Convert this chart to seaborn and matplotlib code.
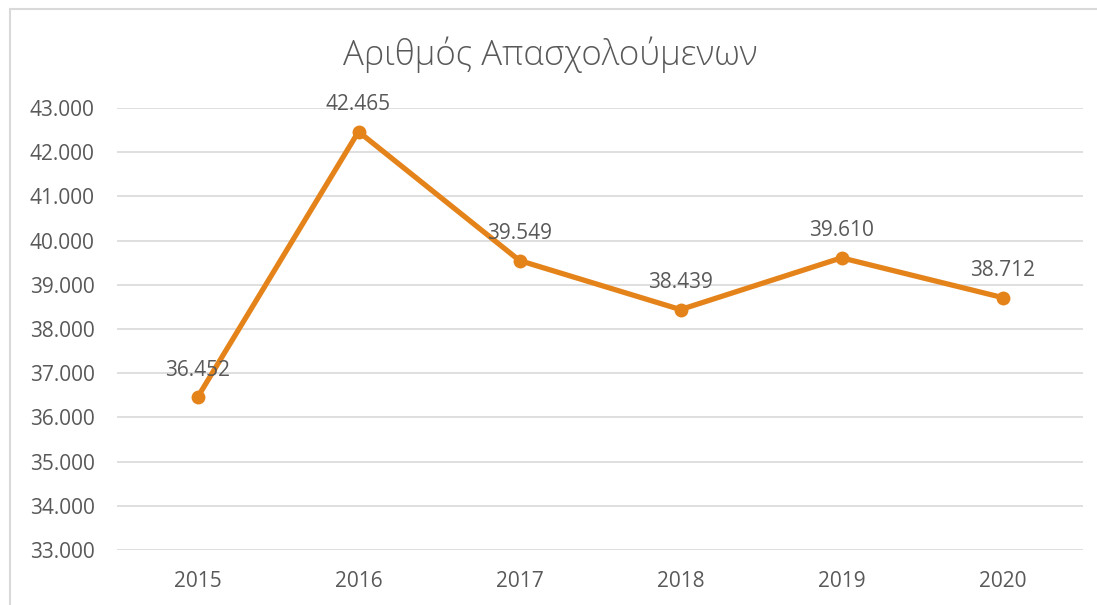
import matplotlib
matplotlib.use("Agg")
import matplotlib.pyplot as plt
import seaborn as sns
import pandas as pd
from matplotlib.ticker import FuncFormatter, MultipleLocator
from matplotlib.patches import Rectangle

# chart data
years = ['2015', '2016', '2017', '2018', '2019', '2020']
employees = [36452, 42465, 39549, 38439, 39610, 38712]
title = 'Αριθμός Απασχολούμενων'

df = pd.DataFrame({'Year': years, 'Employees': employees})

orange = '#E5831B'
text_gray = '#595959'
grid_gray = '#D9D9D9'

sns.set_style('white')
plt.rcParams['font.family'] = ['Open Sans', 'DejaVu Sans']


def dotted(v):
    return f'{v:,.0f}'.replace(',', '.')


fig = plt.figure(figsize=(10.97, 6.05), dpi=100)
ax = fig.add_axes([117 / 1097, 55 / 605, 966 / 1097, 442 / 605])

sns.lineplot(data=df, x='Year', y='Employees', sort=False, color=orange,
             linewidth=3.8, marker='o', markersize=10, markeredgewidth=0, ax=ax)

# data labels above each point
for i, v in enumerate(employees):
    ax.annotate(dotted(v), (i, v), xytext=(0, 12), textcoords='offset points',
                ha='center', va='bottom', fontsize=15, color=text_gray)

ax.set_xlim(-0.5, len(years) - 0.5)
ax.set_ylim(33000, 43000)
ax.yaxis.set_major_locator(MultipleLocator(1000))
ax.yaxis.set_major_formatter(FuncFormatter(lambda v, p: dotted(v)))
ax.grid(axis='y', color=grid_gray, linewidth=1.2)
ax.set_axisbelow(True)
for s in ax.spines.values():
    s.set_visible(False)
ax.tick_params(axis='both', length=0, labelsize=15, labelcolor=text_gray)
ax.tick_params(axis='y', pad=16)
ax.tick_params(axis='x', pad=15)
ax.set_xlabel('')
ax.set_ylabel('')

fig.text(550 / 1097, 1 - 55 / 605, title, ha='center', va='center',
         fontsize=25, color=text_gray, fontweight='light')

# chart area border
fig.patches.append(Rectangle((10 / 1097, -0.1), 1.1, 1.1 - 9 / 605,
                             transform=fig.transFigure, fill=False,
                             edgecolor=grid_gray, linewidth=1.5))

fig.savefig('out.png', dpi=100)
